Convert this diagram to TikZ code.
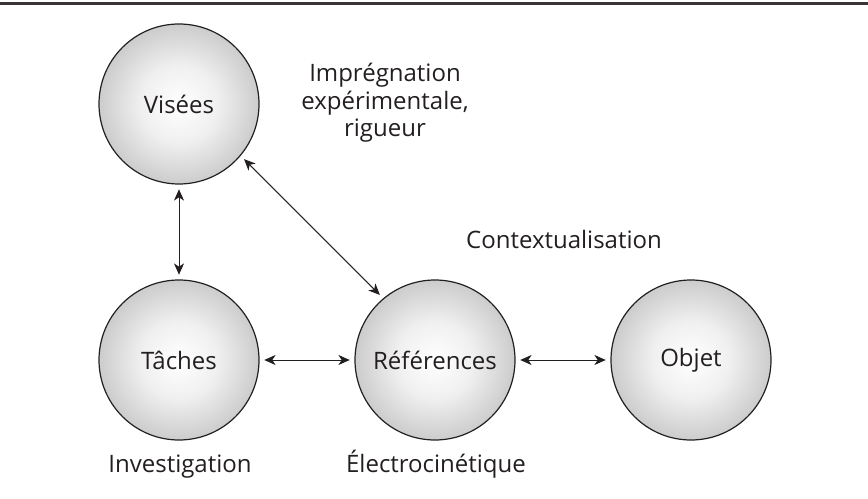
\documentclass[tikz,border=0pt]{standalone}
\usepackage{fontspec}
\setmainfont{Open Sans}
\usetikzlibrary{arrows.meta}
\definecolor{ink}{HTML}{231F20}
\pgfdeclareradialshading{ballshade}{\pgfpoint{0bp}{0bp}}{color(0bp)=(white); color(12bp)=(black!6); color(25bp)=(black!20); color(50bp)=(black!20)}
\tikzset{
  ball/.style={circle, minimum size=120pt, inner sep=0pt, draw=ink, line width=0.9pt, shading=ballshade, text=ink, font=\fontsize{18}{22}\selectfont},
  lbl/.style={text=ink, font=\fontsize{18}{20.6}\selectfont, inner sep=0pt},
  link/.style={{Stealth[length=8.5pt,width=7.5pt,inset=2.5pt]}-{Stealth[length=8.5pt,width=7.5pt,inset=2.5pt]}, line width=0.75pt, draw=ink, shorten <=3.5pt, shorten >=3.5pt}
}
\begin{document}
\begin{tikzpicture}[x=0.75pt,y=-0.75pt]
\useasboundingbox (0,0) rectangle (868,499);
\draw[line width=2.3pt, draw=ink!90] (0,3.5) -- (868,3.5);
\node[ball] (vis) at (179,104) {Visées};
\node[ball] (tac) at (179,360) {Tâches};
\node[ball] (ref) at (435,360) {Références};
\node[ball] (obj) at (691,360) {Objet};
\node[lbl, align=center] (imp) at (385,103) {Imprégnation\\expérimentale,\\rigueur};
\node[lbl, anchor=base] (ctx) at (564,248) {Contextualisation};
\node[lbl, anchor=base] (inv) at (180,472) {Investigation};
\node[lbl, anchor=base] (ele) at (436,472) {Électrocinétique};
\draw[link] (vis) -- (tac);
\draw[link] (vis.-40) -- (ref.130);
\draw[link] (tac) -- (ref);
\draw[link] (ref) -- (obj);
\end{tikzpicture}
\end{document}
